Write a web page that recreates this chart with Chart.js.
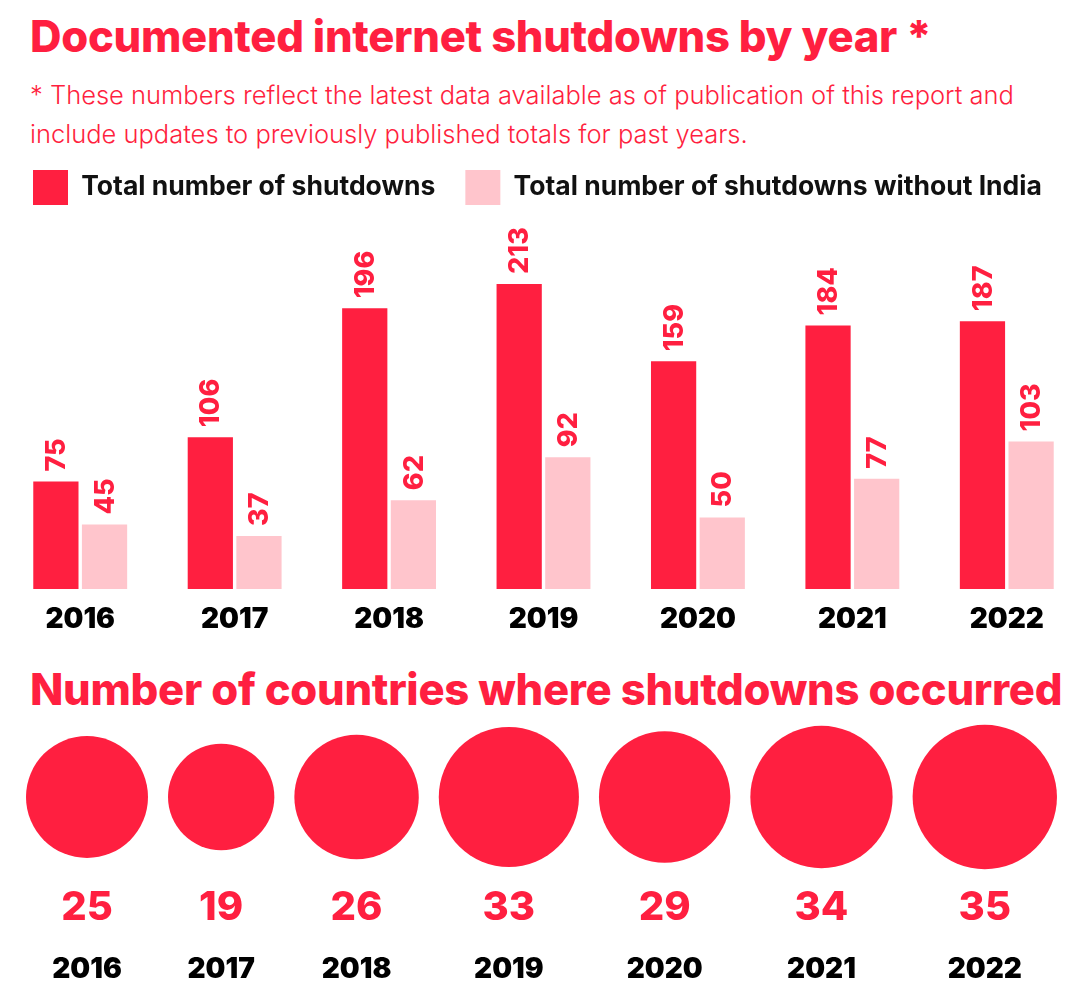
<!DOCTYPE html>
<html>
<head>
<meta charset="utf-8">
<script src="https://cdn.jsdelivr.net/npm/chart.js@4.4.0/dist/chart.umd.min.js"></script>
<style>
    html, body { margin: 0; padding: 0; background: #fff; width: 1080px; height: 989px; overflow: hidden; font-family: Inter, sans-serif; }
    .head { position: absolute; left: 30px; margin: 0; color: #ff1f40; font-weight: 800; white-space: nowrap; font-size: 43.6px; letter-spacing: -0.3px; }
    #title1 { top: 10px; }
    #title2 { top: 663px; }
    #note { position: absolute; left: 30px; top: 75px; margin: 0; color: #ff1f40; font-size: 25.5px; line-height: 39px; font-weight: 300; white-space: nowrap; }
    #bars { position: absolute; left: 0; top: 140px; }
    #bubbles { position: absolute; left: 0; top: 720px; }
</style>
</head>
<body>
<h1 class="head" id="title1">Documented internet shutdowns by year *</h1>
<p id="note">* These numbers reflect the latest data available as of publication of this report and<br>include updates to previously published totals for past years.</p>
<canvas id="bars" width="1084" height="500"></canvas>
<h2 class="head" id="title2">Number of countries where shutdowns occurred</h2>
<canvas id="bubbles" width="1080" height="269"></canvas>
<script>
// --- data ---
const years = ['2016', '2017', '2018', '2019', '2020', '2021', '2022'];
const totalShutdowns = [75, 106, 196, 213, 159, 184, 187];
const withoutIndia = [45, 37, 62, 92, 50, 77, 103];
const countries = [25, 19, 26, 33, 29, 34, 35];

const RED = '#ff1f40';
const PINK = '#ffc5cc';
const FONT = 'Inter, sans-serif';

// rotated value labels above each bar
const barLabels = {
    id: 'barLabels',
    afterDatasetsDraw(chart) {
        const ctx = chart.ctx;
        ctx.save();
        ctx.fillStyle = RED;
        ctx.font = `800 27px ${FONT}`;
        ctx.textAlign = 'left';
        ctx.textBaseline = 'middle';
        chart.data.datasets.forEach((ds, di) => {
            chart.getDatasetMeta(di).data.forEach((el, i) => {
                ctx.save();
                ctx.translate(el.x, el.y - 10);
                ctx.rotate(-Math.PI / 2);
                ctx.fillText(String(ds.data[i]), 0, 1);
                ctx.restore();
            });
        });
        ctx.restore();
    }
};

// fixed legend height so the value scale lines up
const legendHeight = {
    id: 'legendHeight',
    beforeInit(chart) {
        const fit = chart.legend.fit;
        chart.legend.fit = function () {
            fit.call(this);
            this.height = 91;
        };
    }
};

new Chart(document.getElementById('bars'), {
    type: 'bar',
    data: {
        labels: years,
        datasets: [
            { label: 'Total number of shutdowns', data: totalShutdowns, backgroundColor: RED },
            { label: 'Total number of shutdowns without India', data: withoutIndia, backgroundColor: PINK },
        ],
    },
    options: {
        responsive: false,
        animation: false,
        layout: { padding: { left: 3, right: 0, top: 0, bottom: 0 } },
        categoryPercentage: 0.63,
        barPercentage: 0.93,
        plugins: {
            legend: {
                position: 'top',
                align: 'start',
                labels: {
                    boxWidth: 35,
                    boxHeight: 35,
                    padding: 30,
                    color: '#111',
                    font: { family: FONT, size: 26.5, weight: '700' },
                },
            },
            tooltip: { enabled: false },
        },
        scales: {
            x: {
                grid: { display: false, drawTicks: false },
                border: { display: false },
                ticks: { color: '#000', padding: 14, font: { family: FONT, size: 28, weight: '900' } },
                afterFit(scale) { scale.height = 51; },
            },
            y: { display: false, min: 0, max: 250 },
        },
    },
    plugins: [legendHeight, barLabels],
});

// bubbles: radius from sqrt(count), packed left to right with a small gap
const SCALE_R = 12.2;
const GAP = 20;
const START = 26;
const radii = countries.map(c => Math.sqrt(c) * SCALE_R);
const centres = [];
radii.reduce((edge, r) => { centres.push(edge + r); return edge + 2 * r + GAP; }, START);

// count and year under each bubble
const bubbleLabels = {
    id: 'bubbleLabels',
    afterDatasetsDraw(chart) {
        const ctx = chart.ctx;
        const base = chart.chartArea.bottom;
        ctx.save();
        ctx.textAlign = 'center';
        ctx.textBaseline = 'middle';
        chart.getDatasetMeta(0).data.forEach((el, i) => {
            ctx.fillStyle = RED;
            ctx.font = `800 40px ${FONT}`;
            ctx.fillText(String(countries[i]), el.x, base + 34);
            ctx.fillStyle = '#000';
            ctx.font = `900 28px ${FONT}`;
            ctx.fillText(years[i], el.x, base + 96);
        });
        ctx.restore();
    }
};

new Chart(document.getElementById('bubbles'), {
    type: 'bubble',
    data: {
        datasets: [{
            label: 'Countries',
            data: countries.map((c, i) => ({ x: centres[i], y: 0, r: radii[i] })),
            backgroundColor: RED,
            borderWidth: 0,
            clip: false,
        }],
    },
    options: {
        responsive: false,
        animation: false,
        layout: { padding: { left: 0, right: 0, top: 0, bottom: 115 }, autoPadding: false },
        plugins: { legend: { display: false }, tooltip: { enabled: false } },
        scales: {
            x: { type: 'linear', display: false, min: 0, max: 1080 },
            y: { display: false, min: -1, max: 1 },
        },
    },
    plugins: [bubbleLabels],
});
</script>
</body>
</html>
